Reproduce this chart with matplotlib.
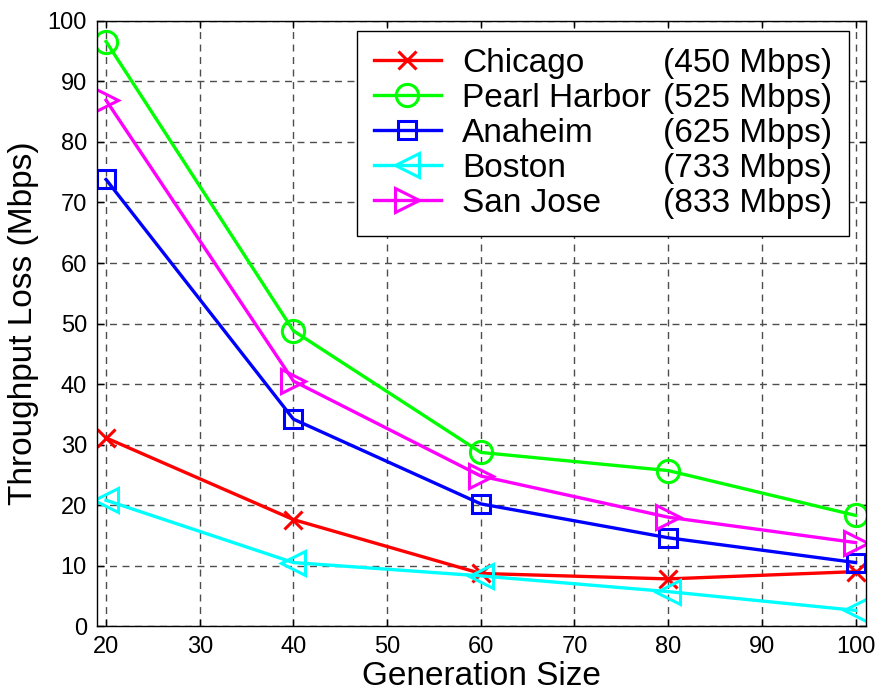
import matplotlib
matplotlib.use("Agg")
import matplotlib.pyplot as plt
from matplotlib.lines import Line2D

plt.rcParams["font.family"] = ["Liberation Sans", "DejaVu Sans"]

generation_size = [20, 40, 60, 80, 100]

cities = ["Chicago", "Pearl Harbor", "Anaheim", "Boston", "San Jose"]
rates = ["(450 Mbps)", "(525 Mbps)", "(625 Mbps)", "(733 Mbps)", "(833 Mbps)"]

chicago = [31.1, 17.6, 8.7, 7.8, 9.0]
pearl_harbor = [96.6, 48.8, 28.7, 25.7, 18.3]
anaheim = [73.8, 34.2, 20.2, 14.6, 10.5]
boston = [20.8, 10.5, 8.3, 5.7, 2.6]
san_jose = [86.9, 40.5, 24.8, 18.0, 13.8]

series = [chicago, pearl_harbor, anaheim, boston, san_jose]
colors = ["#ff0000", "#00ff00", "#0000ff", "#00ffff", "#ff00ff"]
markers = ["x", "o", "s", "<", ">"]
msizes = [13, 16, 13, 17, 17]

fig = plt.figure(figsize=(8.79, 6.98), dpi=100)
ax = fig.add_axes([0.110, 0.103, 0.875, 0.867])

handles = []
for vals, c, m, ms in zip(series, colors, markers, msizes):
    h, = ax.plot(generation_size, vals, color=c, marker=m, markersize=ms,
                 markerfacecolor="none", markeredgecolor=c,
                 markeredgewidth=2.2, linewidth=2.4)
    handles.append(h)

ax.set_xlim(19.0, 101.1)
ax.set_ylim(0, 100)
ax.set_xticks([20, 30, 40, 50, 60, 70, 80, 90, 100])
ax.set_yticks(range(0, 101, 10))
ax.tick_params(direction="in", top=True, right=True, length=5,
               labelsize=17, width=1, pad=7)
ax.grid(True, color="0.3", linestyle=(0, (5, 4)), linewidth=1.0)
for s in ax.spines.values():
    s.set_linewidth(1.0)

ax.set_xlabel("Generation Size", fontsize=24, labelpad=2)
ax.set_ylabel("Throughput Loss (Mbps)", fontsize=24, labelpad=6)

# second legend column: rates, with empty handles
blank = [Line2D([], [], linestyle="none", marker=None) for _ in rates]
leg = ax.legend(handles + blank, cities + rates, ncol=2,
                loc="upper right", bbox_to_anchor=(0.978, 0.983),
                fontsize=24, handlelength=2.0, handletextpad=0.65,
                columnspacing=-2.3, labelspacing=0.12, borderpad=0.5,
                borderaxespad=0, fancybox=False, framealpha=1,
                edgecolor="black")
leg.get_frame().set_linewidth(1.0)

fig.savefig("out.png", dpi=100)
